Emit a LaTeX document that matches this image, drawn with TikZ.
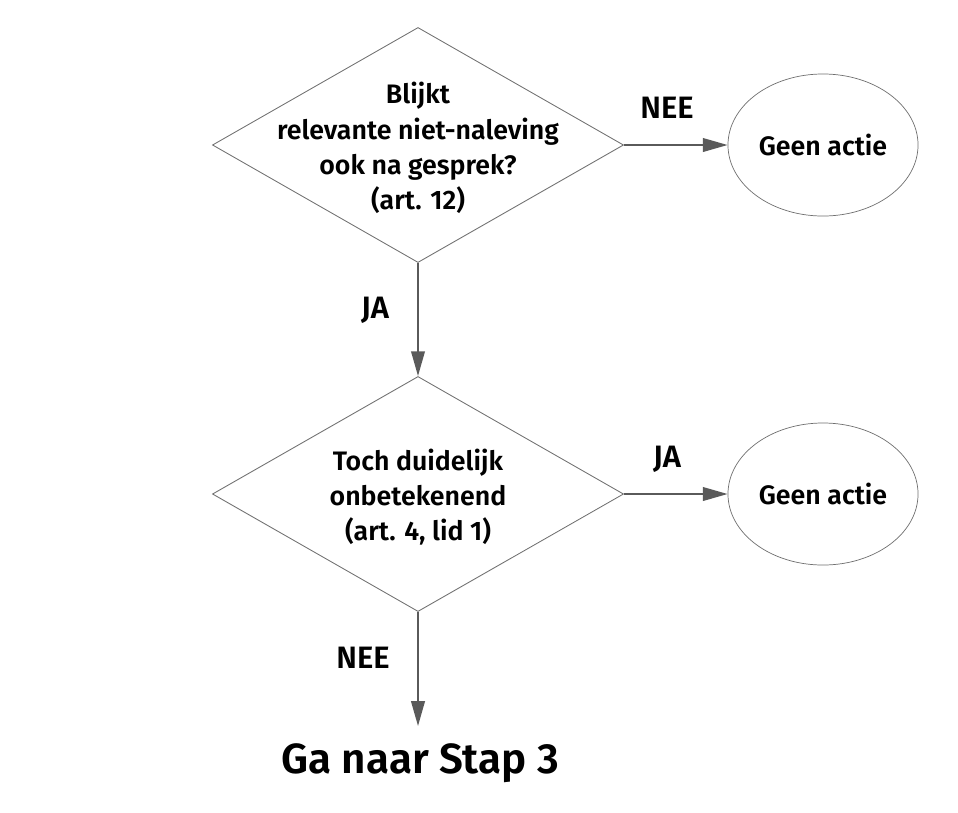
\documentclass[tikz,border=0pt]{standalone}
\usepackage{fontspec}
\setmainfont{Fira Sans}[BoldFont={Fira Sans SemiBold}]
\usetikzlibrary{shapes.geometric,arrows.meta}
\definecolor{linegray}{HTML}{6E6E6E}
\definecolor{arrowgray}{HTML}{5A5A5A}
\tikzset{
  decision/.style={diamond, draw=linegray, line width=0.6pt, inner sep=0pt, minimum width=10.275cm, minimum height=5.875cm},
  outcome/.style={ellipse, draw=linegray, line width=0.5pt, inner sep=0pt, minimum width=4.75cm, minimum height=3.55cm, font=\fontsize{19}{22}\selectfont\bfseries},
  question/.style={align=center, font=\fontsize{19}{25}\selectfont\bfseries},
  answer/.style={font=\fontsize{22}{26}\selectfont\bfseries},
  flow/.style={draw=arrowgray, line width=1.4pt, -{Triangle[length=0.62cm, width=0.34cm]}}
}
\begin{document}
\begin{tikzpicture}[x=0.025cm, y=-0.025cm]
    \useasboundingbox (0, 0) rectangle (958, 812);
    \node[decision] (ruit1) at (418, 145) {};
    \node[question] (vraag1) at (418, 148) {Blijkt\\relevante niet-naleving\\ook na gesprek?\\(art. 12)};
    \node[decision] (ruit2) at (418, 494) {};
    \node[question] (vraag2) at (418, 497) {Toch duidelijk\\onbetekenend\\(art. 4, lid 1)};
    \node[outcome] (actie1) at (823, 145) {Geen actie};
    \node[outcome] (actie2) at (823, 494) {Geen actie};
    \node[font=\fontsize{30}{35}\selectfont\bfseries] (stap3) at (420, 763) {Ga naar Stap 3};
    \coordinate (einde) at (418, 726);
    \draw[flow] (ruit1.east) -- (actie1.west);
    \draw[flow] (ruit1.south) -- (ruit2.north);
    \draw[flow] (ruit2.east) -- (actie2.west);
    \draw[flow] (ruit2.south) -- (einde);
    \node[answer] (nee1) at (667, 108) {NEE};
    \node[answer] (ja1) at (375, 310) {JA};
    \node[answer] (ja2) at (667, 459) {JA};
    \node[answer] (nee2) at (363, 658) {NEE};
  \end{tikzpicture}
\end{document}
